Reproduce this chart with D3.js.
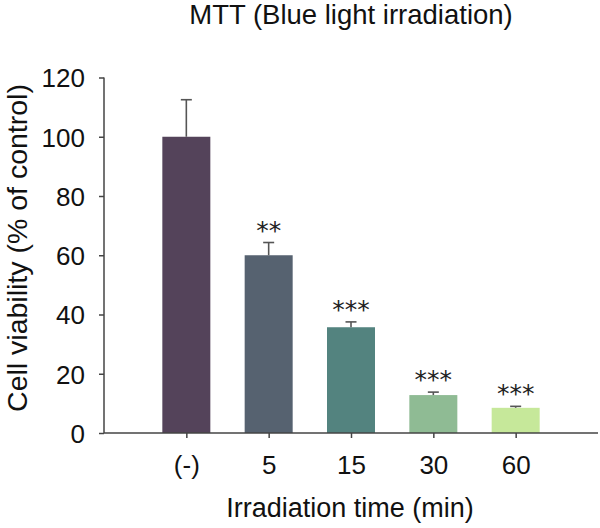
<!DOCTYPE html>
<html>
<head>
<meta charset="utf-8">
<script src="https://cdn.jsdelivr.net/npm/d3@7"></script>
<style>
  html, body { margin: 0; padding: 0; background: #fff; }
  svg { display: block; }
  text { font-family: "Liberation Sans", Arial, sans-serif; fill: #111; }
</style>
</head>
<body>
<svg id="chart" width="600" height="528"></svg>
<script>
const categories = ["(-)", "5", "15", "30", "60"];
const values = [100, 60, 35.7, 12.8, 8.5];
const errors = [12.5, 4.3, 1.8, 1.0, 0.5];
const significance = ["", "**", "***", "***", "***"];
const colors = ["#54435a", "#566270", "#53837f", "#8fbb94", "#c6e89a"];
const yTicks = [0, 20, 40, 60, 80, 100, 120];
const title = "MTT (Blue light irradiation)";
const xTitle = "Irradiation time (min)";
const yTitle = "Cell viability (% of control)";

const svg = d3.select("#chart");
const xLeft = 104, xRight = 598, yTop = 77.5, yBottom = 433;
const barWidth = 48;

const x = d3.scalePoint().domain(categories).range([xLeft, xRight]).padding(1);
const y = d3.scaleLinear().domain([0, 120]).range([yBottom, yTop]);

const data = categories.map((c, i) => ({ c, v: values[i], e: errors[i], s: significance[i], col: colors[i] }));

// bars
svg.append("g").selectAll("rect").data(data).join("rect")
  .attr("x", d => x(d.c) - barWidth / 2)
  .attr("y", d => y(d.v))
  .attr("width", barWidth)
  .attr("height", d => y(0) - y(d.v))
  .attr("fill", d => d.col);

// error bars (upper only)
const eg = svg.append("g").attr("stroke", "#555").attr("stroke-width", 1.6);
eg.selectAll("line.v").data(data).join("line").attr("class", "v")
  .attr("x1", d => x(d.c)).attr("x2", d => x(d.c))
  .attr("y1", d => y(d.v)).attr("y2", d => y(d.v + d.e));
eg.selectAll("line.cap").data(data).join("line").attr("class", "cap")
  .attr("x1", d => x(d.c) - 5.5).attr("x2", d => x(d.c) + 5.5)
  .attr("y1", d => y(d.v + d.e)).attr("y2", d => y(d.v + d.e));

// significance marks
svg.append("g").selectAll("text").data(data.filter(d => d.s)).join("text")
  .attr("x", d => x(d.c))
  .attr("y", d => y(d.v + d.e) - 4)
  .attr("text-anchor", "middle")
  .style("font-family", "'DejaVu Sans', sans-serif")
  .style("font-size", "25px")
  .style("fill", "#222")
  .text(d => d.s);

// y axis
const yAxis = svg.append("g").attr("transform", `translate(${xLeft},0)`)
  .call(d3.axisLeft(y).tickValues(yTicks).tickSize(5).tickPadding(14).tickFormat(d3.format("d")));
yAxis.select(".domain").attr("stroke", "#444").attr("stroke-width", 1.5).attr("d", `M0,${yTop}V${yBottom}`);
yAxis.selectAll(".tick line").attr("stroke", "#444").attr("stroke-width", 1.5);
yAxis.selectAll(".tick text").style("font-size", "26px").style("font-family", "'Liberation Sans', Arial, sans-serif").attr("fill", "#111").attr("dy", "0.36em");

// x axis
const xAxis = svg.append("g").attr("transform", `translate(0,${yBottom})`)
  .call(d3.axisBottom(x).tickSize(5).tickPadding(18));
xAxis.select(".domain").attr("stroke", "#444").attr("stroke-width", 1.5).attr("d", `M${xLeft},0H${xRight}`);
xAxis.selectAll(".tick line").attr("stroke", "#444").attr("stroke-width", 1.5);
xAxis.selectAll(".tick text").style("font-size", "26px").style("font-family", "'Liberation Sans', Arial, sans-serif").attr("fill", "#111");

// titles
svg.append("text").attr("x", (xLeft + xRight) / 2).attr("y", 23.5)
  .attr("text-anchor", "middle").style("font-size", "27.5px").text(title);
svg.append("text").attr("x", 350).attr("y", 517)
  .attr("text-anchor", "middle").style("font-size", "27px").text(xTitle);
svg.append("text").attr("transform", `translate(27,248) rotate(-90)`)
  .attr("text-anchor", "middle").style("font-size", "28.5px").text(yTitle);
</script>
</body>
</html>
